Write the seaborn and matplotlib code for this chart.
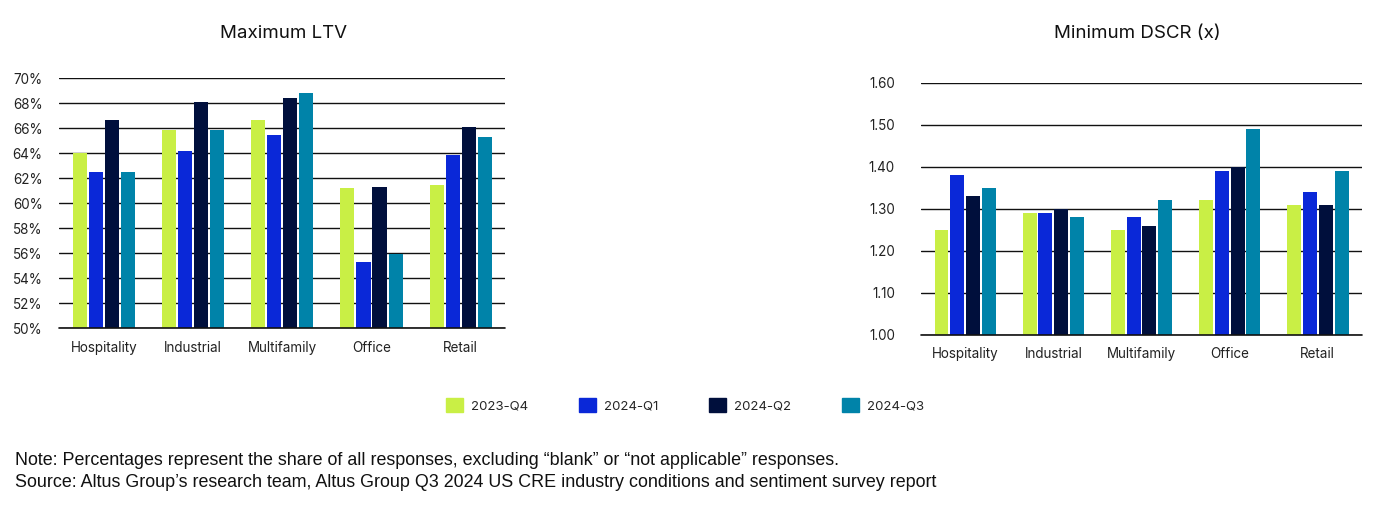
"""
Altus Group CRE survey: max LTV and min DSCR by property type
"""

import pandas as pd
import matplotlib.pyplot as plt
import seaborn as sns
from matplotlib.ticker import FuncFormatter

# Data
categories = ["Hospitality", "Industrial", "Multifamily", "Office", "Retail"]
quarters = ["2023-Q4", "2024-Q1", "2024-Q2", "2024-Q3"]

ltv_2023q4 = [64.0, 65.9, 66.7, 61.2, 61.5]
ltv_2024q1 = [62.5, 64.2, 65.5, 55.3, 63.9]
ltv_2024q2 = [66.7, 68.1, 68.4, 61.3, 66.1]
ltv_2024q3 = [62.5, 65.9, 68.8, 55.9, 65.3]

dscr_2023q4 = [1.25, 1.29, 1.25, 1.32, 1.31]
dscr_2024q1 = [1.38, 1.29, 1.28, 1.39, 1.34]
dscr_2024q2 = [1.33, 1.30, 1.26, 1.40, 1.31]
dscr_2024q3 = [1.35, 1.28, 1.32, 1.49, 1.39]

ltv_ticks = [50, 52, 54, 56, 58, 60, 62, 64, 66, 68, 70]
dscr_ticks = [1.0, 1.1, 1.2, 1.3, 1.4, 1.5, 1.6]

colors = ["#C9EF45", "#0A28D8", "#000F3C", "#0083A9"]

NOTE = "Note: Percentages represent the share of all responses, excluding \u201cblank\u201d or \u201cnot applicable\u201d responses."
SOURCE = "Source: Altus Group\u2019s research team, Altus Group Q3 2024 US CRE industry conditions and sentiment survey report"


def to_long(series):
    rows = []
    for q, vals in zip(quarters, series):
        for c, v in zip(categories, vals):
            rows.append({"category": c, "quarter": q, "value": v})
    return pd.DataFrame(rows)


def style_axis(ax, ticks, fmt, ypad):
    ax.set_ylim(ticks[0], ticks[-1])
    ax.set_yticks(ticks)
    ax.yaxis.set_major_formatter(FuncFormatter(fmt))
    ax.grid(axis="y", color="#111111", linewidth=1.0)
    ax.set_axisbelow(True)
    # bottom line drawn over the bar feet, like the original
    ax.axhline(ticks[0], color="#111111", linewidth=1.2, clip_on=False, zorder=5)
    for s in ax.spines.values():
        s.set_visible(False)
    ax.tick_params(axis="both", length=0, labelsize=9.7, colors="#222222")
    ax.tick_params(axis="y", pad=ypad)
    ax.tick_params(axis="x", pad=9)
    ax.set_xlabel("")
    ax.set_ylabel("")
    ax.set_xlim(-0.5, len(categories) - 0.5)


sns.set_theme(style="white")
plt.rcParams["font.family"] = ["Inter", "DejaVu Sans"]

fig = plt.figure(figsize=(13.77, 5.12), dpi=100)
ax1 = fig.add_axes([0.043, 0.359, 0.324, 0.488])
ax2 = fig.add_axes([0.669, 0.346, 0.320, 0.492])

ltv_df = to_long([ltv_2023q4, ltv_2024q1, ltv_2024q2, ltv_2024q3])
dscr_df = to_long([dscr_2023q4, dscr_2024q1, dscr_2024q2, dscr_2024q3])

for ax, df in [(ax1, ltv_df), (ax2, dscr_df)]:
    sns.barplot(data=df, x="category", y="value", hue="quarter",
                hue_order=quarters, order=categories, palette=colors,
                width=0.72, gap=0.12, saturation=1, linewidth=0,
                ax=ax, legend=False)

style_axis(ax1, ltv_ticks, lambda v, p: f"{v:.0f}%", 12)
style_axis(ax2, dscr_ticks, lambda v, p: f"{v:.2f}", 19)

fig.text(0.206, 0.934, "Maximum LTV", fontsize=13.5, color="#111111",
         ha="center", va="center")
fig.text(0.826, 0.934, "Minimum DSCR (x)", fontsize=13.5, color="#111111",
         ha="center", va="center")

handles = [plt.Rectangle((0, 0), 1, 1, color=c) for c in colors]
fig.legend(handles, quarters, loc="center", bbox_to_anchor=(0.4975, 0.209),
           ncol=4, frameon=False, fontsize=9.5, handlelength=1.25,
           handleheight=1.25, handletextpad=0.6, columnspacing=3.9)

fig.text(0.011, 0.100, NOTE, fontsize=12.9, family=["Liberation Sans"],
         color="#111111", va="center")
fig.text(0.011, 0.057, SOURCE, fontsize=12.9, family=["Liberation Sans"],
         color="#111111", va="center")

fig.savefig("out.png", dpi=100)
